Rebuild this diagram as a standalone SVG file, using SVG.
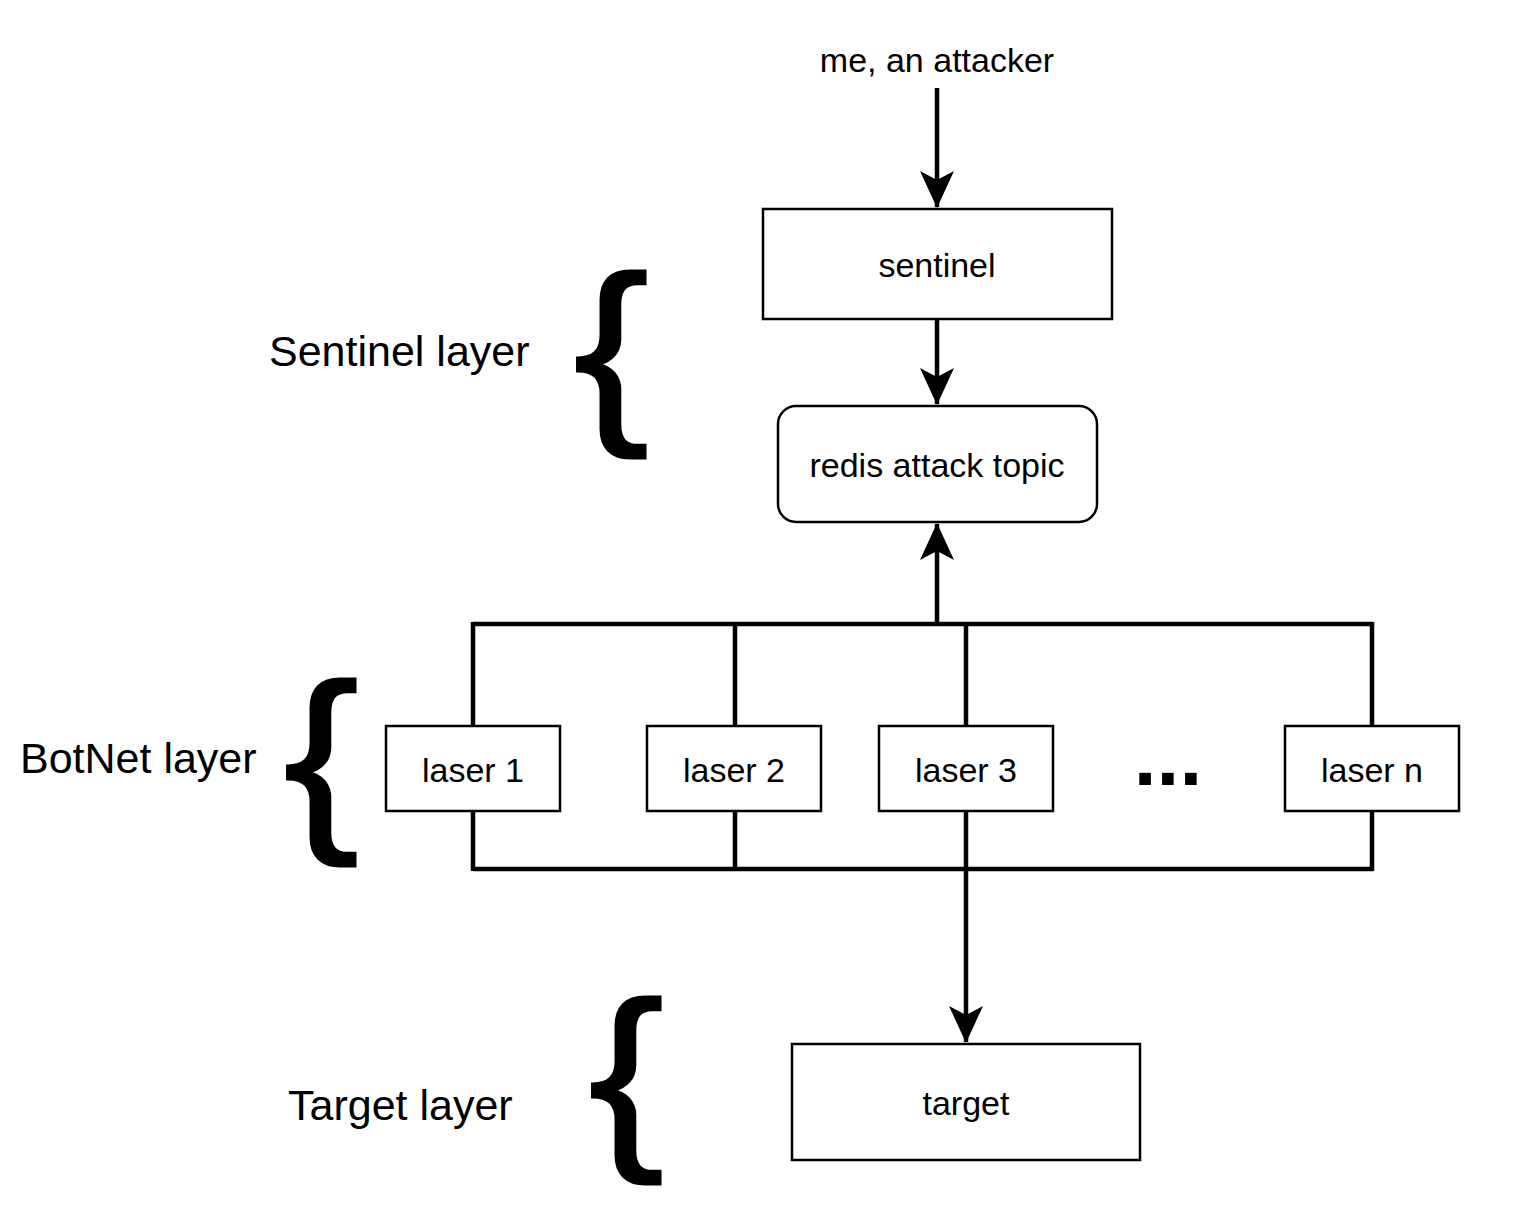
<svg xmlns="http://www.w3.org/2000/svg" width="1536" height="1212" viewBox="0 0 1536 1212">
<style>
.box{fill:#fff;stroke:#000;stroke-width:2.5}
.lbl{font-family:"Liberation Sans",Arial,sans-serif;font-size:34px;fill:#000;text-anchor:middle}
.layer{font-family:"Liberation Sans",Arial,sans-serif;font-size:43px;fill:#000}
.brace{font-family:"Liberation Sans",Arial,sans-serif;font-size:200px;fill:#000;stroke:#000;stroke-width:3}
.wire{fill:none;stroke:#000;stroke-width:4.5}
</style>
<defs>
<marker id="arr" viewBox="0 0 37 34" refX="36" refY="17" markerWidth="37" markerHeight="34" markerUnits="userSpaceOnUse" orient="auto">
<path d="M0,0 L37,17 L0,34 L9,17 Z" fill="#000"/>
</marker>
</defs>
<rect width="1536" height="1212" fill="#fff"/>
<g id="connectors">
<path class="wire" d="M937,88 L937,207" marker-end="url(#arr)"/>
<path class="wire" d="M937,319 L937,404" marker-end="url(#arr)"/>
<path class="wire" d="M937,624 L937,524" marker-end="url(#arr)"/>
<path class="wire" d="M966,869 L966,1042" marker-end="url(#arr)"/>
<path class="wire" d="M473,624 L1373,624 M473,869 L1373,869"/>
<path class="wire" d="M473,622 L473,726 M473,811 L473,871"/>
<path class="wire" d="M735,624 L735,726 M735,811 L735,869"/>
<path class="wire" d="M966,624 L966,726 M966,811 L966,869"/>
<path class="wire" d="M1372,622 L1372,726 M1372,811 L1372,871"/>
</g>
<g id="attacker"><text class="lbl" x="937" y="72">me, an attacker</text></g>
<g id="sentinel"><rect class="box" x="763" y="209" width="349" height="110"/><text class="lbl" x="937" y="277">sentinel</text></g>
<g id="redis"><rect class="box" x="778" y="406" width="319" height="116" rx="18"/><text class="lbl" x="937" y="477">redis attack topic</text></g>
<g id="laser1"><rect class="box" x="386" y="726" width="174" height="85"/><text class="lbl" x="473" y="782">laser 1</text></g>
<g id="laser2"><rect class="box" x="647" y="726" width="174" height="85"/><text class="lbl" x="734" y="782">laser 2</text></g>
<g id="laser3"><rect class="box" x="879" y="726" width="174" height="85"/><text class="lbl" x="966" y="782">laser 3</text></g>
<g id="ellipsis"><text class="lbl" x="1168" y="785" style="font-weight:bold;font-size:82px">...</text></g>
<g id="lasern"><rect class="box" x="1285" y="726" width="174" height="85"/><text class="lbl" x="1372" y="782">laser n</text></g>
<g id="target"><rect class="box" x="792" y="1044" width="348" height="116"/><text class="lbl" x="966" y="1115">target</text></g>
<g id="sentinel-layer"><text class="layer" x="269" y="366">Sentinel layer</text><text class="brace" transform="translate(574,416) scale(1.12,1)">{</text></g>
<g id="botnet-layer"><text class="layer" x="20" y="773">BotNet layer</text><text class="brace" transform="translate(284,824) scale(1.12,1)">{</text></g>
<g id="target-layer"><text class="layer" x="288" y="1120">Target layer</text><text class="brace" transform="translate(589,1142) scale(1.12,1)">{</text></g>
</svg>
